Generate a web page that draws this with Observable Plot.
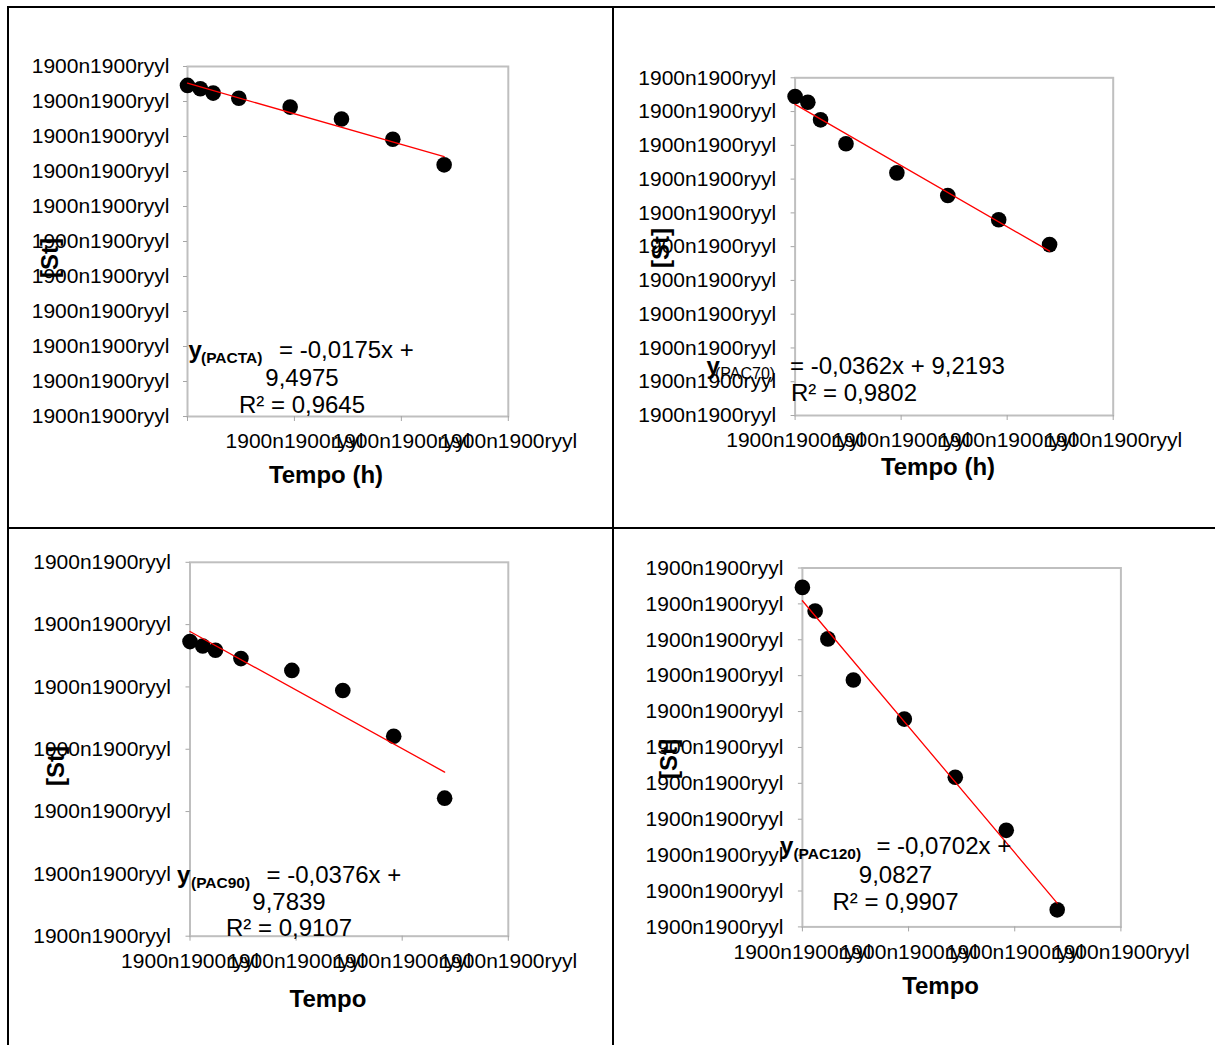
<!DOCTYPE html>
<html>
<head>
<meta charset="utf-8">
<script src="https://cdn.jsdelivr.net/npm/d3@7"></script>
<script src="https://cdn.jsdelivr.net/npm/@observablehq/plot@0.6"></script>
<style>
html, body { margin: 0; padding: 0; background: #fff; }
#page { position: relative; width: 1215px; height: 1045px; overflow: hidden; background: #fff; }
.rule { position: absolute; background: #000; }
</style>
</head>
<body>
<div id="page"></div>
<script>
// ---------------- DATA ----------------
const time = [0, 1.2, 2.4, 4.8, 9.6, 14.4, 19.2, 24];
const stPACTA  = [9.485, 9.466, 9.441, 9.412, 9.361, 9.293, 9.177, 9.031];
const stPAC70  = [9.266, 9.232, 9.128, 8.986, 8.814, 8.680, 8.536, 8.389];
const stPAC90  = [9.719, 9.691, 9.663, 9.610, 9.534, 9.405, 9.111, 8.714];
const stPAC120 = [9.157, 9.025, 8.870, 8.641, 8.423, 8.099, 7.803, 7.360];
const seriesNames = ["PACTA", "PAC70", "PAC90", "PAC120"];
const seriesValues = [stPACTA, stPAC70, stPAC90, stPAC120];
const slopes = [-0.0175, -0.0362, -0.0376, -0.0702];
const intercepts = [9.4975, 9.2193, 9.7839, 9.0827];
const slopeText = ["-0,0175", "-0,0362", "-0,0376", "-0,0702"];
const interceptText = ["9,4975", "9,2193", "9,7839", "9,0827"];
const r2Text = ["0,9645", "0,9802", "0,9107", "0,9907"];
const xTitles = ["Tempo (h)", "Tempo (h)", "Tempo", "Tempo"];
const yTitle = "[St]";
const xTicks = [0, 10, 20, 30];
const xTickLabels = [
  ["", "1900n1900ryyl", "1900n1900ryyl", "1900n1900ryyl"],
  ["1900n1900ryyl", "1900n1900ryyl", "1900n1900ryyl", "1900n1900ryyl"],
  ["1900n1900ryyl", "1900n1900ryyl", "1900n1900ryyl", "1900n1900ryyl"],
  ["1900n1900ryyl", "1900n1900ryyl", "1900n1900ryyl", "1900n1900ryyl"]
];
const yTickLabel = "1900n1900ryyl";
const yAxisTop = [9.593, 9.377, 10.228, 9.265];
const yAxisStep = [0.2, 0.2, 0.4, 0.2];
const yAxisCount = [10, 10, 6, 10];

// ---------------- LAYOUT (page pixels) ----------------
const FONT = '"Liberation Sans", Arial, sans-serif';
const rules = [[7, 6, 1208, 2], [7, 6, 2, 1039], [612, 6, 2, 1039], [7, 527, 1208, 2]];
const layout = [
  {cell: [9, 8, 603, 519], frame: [187, 507.8, 66, 416], yPad: 14, st: [50, 258], title: [326, 483],
   eq: {yX: 188.5, subX: 201, eqX: 279, l1: 358, center: 302, l2: 386, l3: 413, twoLine: false, subBold: true}},
  {cell: [614, 8, 601, 519], frame: [794.6, 1112.7, 77.3, 415], yPad: 15, st: [661, 248], title: [938, 475],
   eq: {yX: 706.5, subX: 715, eqX: 790, l1: 374, center: 854, l2: 401, twoLine: true, subBold: false}},
  {cell: [9, 530, 603, 515], frame: [189.5, 507.8, 561.8, 935.7], yPad: 15, st: [56, 766], title: [328, 1006.6],
   eq: {yX: 177, subX: 191, eqX: 266.5, l1: 883, center: 289, l2: 910, l3: 936, twoLine: false, subBold: true}},
  {cell: [614, 530, 601, 515], frame: [801.9, 1120.4, 567.5, 926.4], yPad: 15, st: [669, 759], title: [940.6, 994],
   eq: {yX: 780, subX: 793.4, eqX: 876.4, l1: 854.4, center: 895.5, l2: 883, l3: 909.6, twoLine: false, subBold: true}}
];

const page = document.getElementById("page");
rules.forEach(([x, y, w, h]) => {
  const d = document.createElement("div");
  d.className = "rule";
  Object.assign(d.style, {left: x + "px", top: y + "px", width: w + "px", height: h + "px"});
  page.appendChild(d);
});

seriesNames.forEach((name, i) => {
  const L = layout[i];
  const [cx, cy, cw, ch] = L.cell;
  const [fl, fr, ft, fb] = L.frame;
  const rows = time.map((t, j) => ({t, v: seriesValues[i][j]}));
  const top = yAxisTop[i], step = yAxisStep[i], n = yAxisCount[i];
  const yTicks = d3.range(n + 1).map(k => top - (n - k) * step);
  const t0 = d3.min(time), t1 = d3.max(time);
  const fit = [t0, t1].map(t => ({t, v: intercepts[i] + slopes[i] * t}));
  const xLab = new Map(xTicks.map((d, k) => [d, xTickLabels[i][k]]));

  const chart = Plot.plot({
    width: cw, height: ch,
    marginLeft: fl - cx, marginRight: cx + cw - fr,
    marginTop: ft - cy, marginBottom: cy + ch - fb,
    x: {domain: [xTicks[0], xTicks[xTicks.length - 1]]},
    y: {domain: [yTicks[0], yTicks[yTicks.length - 1]]},
    style: {fontFamily: FONT, fontSize: "21px", color: "black", background: "transparent", overflow: "visible"},
    marks: [
      Plot.frame({stroke: "#bfbfbf", strokeWidth: 2}),
      Plot.axisX({ticks: xTicks, tickFormat: d => xLab.get(d), tickSize: 5, tickPadding: 12,
                  stroke: "#a6a6a6", fill: "black", label: null}),
      Plot.axisY({ticks: yTicks, tickFormat: () => yTickLabel, tickSize: 4, tickPadding: L.yPad,
                  stroke: "#a6a6a6", fill: "black", label: null}),
      Plot.dot(rows, {x: "t", y: "v", r: 7.8, fill: "black"}),
      Plot.line(fit, {x: "t", y: "v", stroke: "#ff0000", strokeWidth: 1.3})
    ]
  });
  chart.style.position = "absolute";
  chart.style.left = cx + "px";
  chart.style.top = cy + "px";
  chart.style.maxWidth = "none";
  page.appendChild(chart);

  const svg = d3.select(chart);
  const g = svg.append("g").attr("font-family", FONT).attr("fill", "black");

  // x title
  g.append("text").attr("x", L.title[0] - cx).attr("y", L.title[1] - cy)
    .attr("text-anchor", "middle").attr("font-size", 24).attr("font-weight", "bold").text(xTitles[i]);
  // y title
  g.append("text").attr("transform", `translate(${L.st[0] - cx},${L.st[1] - cy}) rotate(-90)`)
    .attr("text-anchor", "middle").attr("dy", "0.35em").attr("font-size", 24).attr("font-weight", "bold").text(yTitle);

  // equation label
  const E = L.eq;
  const line1 = g.append("text").attr("x", E.yX - cx).attr("y", E.l1 - cy)
    .attr("text-anchor", "start").attr("font-size", 24);
  line1.append("tspan").attr("font-weight", "bold").text("y");
  line1.append("tspan").attr("x", E.subX - cx).attr("dy", 5).attr("font-size", E.subBold ? 15.5 : 16)
    .attr("font-weight", E.subBold ? "bold" : "normal").text(`(${name})`);
  line1.append("tspan").attr("x", E.eqX - cx).attr("dy", -5)
    .text(E.twoLine ? `= ${slopeText[i]}x + ${interceptText[i]}` : `= ${slopeText[i]}x +`);
  if (E.twoLine) {
    g.append("text").attr("x", E.center - cx).attr("y", E.l2 - cy).attr("text-anchor", "middle")
      .attr("font-size", 24).text(`R² = ${r2Text[i]}`);
  } else {
    g.append("text").attr("x", E.center - cx).attr("y", E.l2 - cy).attr("text-anchor", "middle")
      .attr("font-size", 24).text(interceptText[i]);
    g.append("text").attr("x", E.center - cx).attr("y", E.l3 - cy).attr("text-anchor", "middle")
      .attr("font-size", 24).text(`R² = ${r2Text[i]}`);
  }
});
</script>
</body>
</html>
